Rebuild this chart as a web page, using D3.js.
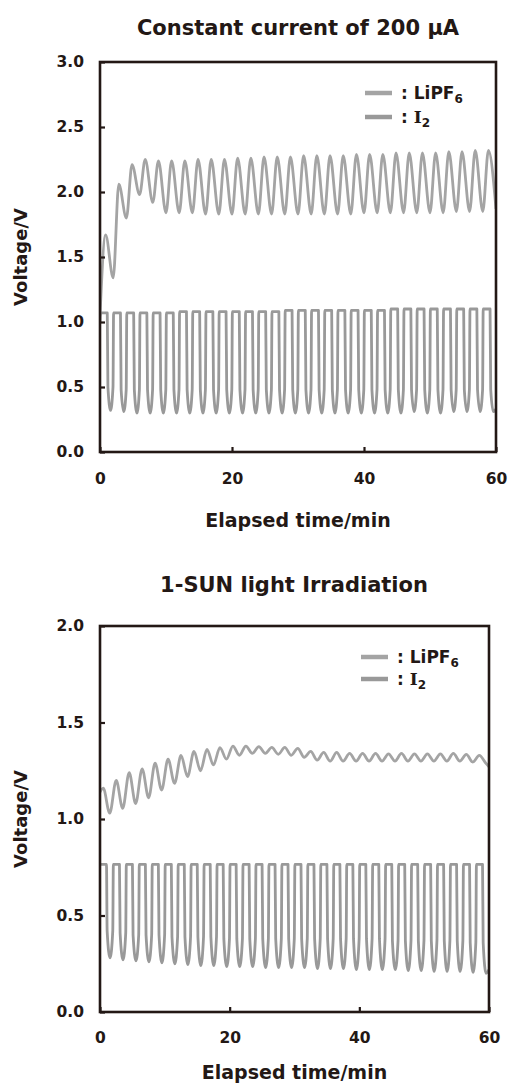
<!DOCTYPE html>
<html>
<head>
<meta charset="utf-8">
<script src="https://cdn.jsdelivr.net/npm/d3@7"></script>
<style>
  html, body { margin: 0; padding: 0; background: #fff; }
  svg { display: block; }
  text { font-family: "DejaVu Sans", Verdana, sans-serif; font-weight: bold; fill: #231815; }
</style>
</head>
<body>
<svg id="chart" width="508" height="1086"></svg>
<script>
// ---------- data ----------
const timeTicks = [0, 20, 40, 60];
const ccVoltTicks = [0, 0.5, 1.0, 1.5, 2.0, 2.5, 3.0];
const sunVoltTicks = [0, 0.5, 1.0, 1.5, 2.0];
const seriesNames = ["LiPF", "I"];
const seriesSubs = ["6", "2"];

// cycle start times (min), 2-min cycles
const cycleStarts = [0, 2, 4, 6, 8, 10, 12, 14, 16, 18, 20, 22, 24, 26, 28, 30, 32, 34, 36, 38, 40, 42, 44, 46, 48, 50, 52, 54, 56, 58];

// Constant current of 200 uA — upper (LiPF6) curve: peaks and troughs per cycle
const ccLiPF6Start = 1.05;
const ccLiPF6Peak = [1.67, 2.06, 2.21, 2.25, 2.24, 2.24, 2.24, 2.25, 2.25, 2.25, 2.26, 2.26, 2.27, 2.27, 2.27, 2.28, 2.28, 2.28, 2.28, 2.29, 2.29, 2.29, 2.30, 2.30, 2.30, 2.30, 2.31, 2.31, 2.32, 2.32];
const ccLiPF6Trough = [1.34, 1.80, 1.98, 1.92, 1.84, 1.84, 1.84, 1.83, 1.83, 1.83, 1.83, 1.83, 1.83, 1.83, 1.83, 1.83, 1.83, 1.83, 1.83, 1.84, 1.84, 1.84, 1.84, 1.84, 1.84, 1.84, 1.85, 1.85, 1.85, 1.87];

// Constant current — lower (I2) curve: plateau tops, knee levels and bottoms per cycle
const ccI2Start = 1.0;
const ccI2Top = [1.07, 1.07, 1.07, 1.07, 1.07, 1.07, 1.08, 1.08, 1.08, 1.08, 1.08, 1.08, 1.08, 1.08, 1.09, 1.09, 1.09, 1.09, 1.09, 1.09, 1.09, 1.09, 1.10, 1.10, 1.10, 1.10, 1.10, 1.10, 1.10, 1.10];
const ccI2Knee = [0.50, 0.48, 0.48, 0.48, 0.48, 0.48, 0.48, 0.48, 0.48, 0.48, 0.48, 0.48, 0.48, 0.48, 0.48, 0.48, 0.48, 0.48, 0.48, 0.48, 0.48, 0.48, 0.48, 0.48, 0.48, 0.48, 0.48, 0.48, 0.48, 0.48];
const ccI2Bottom = [0.32, 0.31, 0.30, 0.30, 0.30, 0.30, 0.30, 0.30, 0.30, 0.30, 0.30, 0.30, 0.30, 0.30, 0.30, 0.30, 0.30, 0.30, 0.30, 0.30, 0.30, 0.30, 0.30, 0.31, 0.30, 0.30, 0.31, 0.31, 0.31, 0.31];

// 1-SUN light irradiation — upper (LiPF6) curve
const sunLiPF6Start = 1.14;
const sunLiPF6End = 1.27;
const sunLiPF6Peak = [1.16, 1.20, 1.24, 1.26, 1.29, 1.31, 1.33, 1.35, 1.36, 1.37, 1.378, 1.378, 1.375, 1.371, 1.371, 1.366, 1.35, 1.345, 1.345, 1.34, 1.34, 1.34, 1.337, 1.34, 1.337, 1.337, 1.337, 1.34, 1.335, 1.33];
const sunLiPF6Trough = [1.03, 1.055, 1.08, 1.11, 1.15, 1.185, 1.22, 1.25, 1.28, 1.31, 1.33, 1.34, 1.34, 1.335, 1.33, 1.32, 1.305, 1.30, 1.30, 1.30, 1.30, 1.30, 1.30, 1.30, 1.30, 1.30, 1.30, 1.30, 1.295, 1.29];

// 1-SUN — lower (I2) curve
const sunI2Start = 0.76;
const sunI2Top = [0.765, 0.765, 0.765, 0.765, 0.765, 0.765, 0.765, 0.765, 0.765, 0.765, 0.765, 0.765, 0.765, 0.765, 0.765, 0.765, 0.765, 0.765, 0.765, 0.765, 0.765, 0.765, 0.765, 0.765, 0.765, 0.765, 0.765, 0.765, 0.765, 0.765];
const sunI2Knee = [0.42, 0.41, 0.40, 0.40, 0.40, 0.39, 0.39, 0.39, 0.39, 0.38, 0.38, 0.38, 0.38, 0.38, 0.38, 0.38, 0.38, 0.38, 0.38, 0.38, 0.38, 0.38, 0.37, 0.37, 0.37, 0.37, 0.37, 0.37, 0.36, 0.36];
const sunI2Bottom = [0.28, 0.27, 0.265, 0.26, 0.255, 0.25, 0.245, 0.24, 0.24, 0.235, 0.235, 0.235, 0.23, 0.23, 0.23, 0.23, 0.225, 0.225, 0.225, 0.22, 0.22, 0.22, 0.22, 0.215, 0.215, 0.21, 0.21, 0.21, 0.205, 0.20];

// ---------- drawing ----------
const svg = d3.select("#chart");
const ink = "#231815";
const colLiPF6 = "#a4a4a4";
const colI2 = "#999999";
const FONT = "'DejaVu Sans', Verdana, sans-serif";

function waveSawPoints(start, peaks, troughs, peakOff, troughOff, end) {
  const pts = [[0, start]];
  cycleStarts.forEach((t0, i) => {
    pts.push([t0 + peakOff, peaks[i]]);
    pts.push([Math.min(t0 + troughOff, 60), troughs[i]]);
  });
  if (end !== undefined) pts.push([60, end]);
  return pts;
}

// shape offsets: rise, plateau end, knee, bottom, knee2 (minutes into each cycle)
function waveSquarePoints(start, tops, knees, bottoms, off) {
  const pts = [[0, start]];
  const last = cycleStarts.length - 1;
  cycleStarts.forEach((t0, i) => {
    pts.push([t0 + off[0], tops[i]]);
    pts.push([t0 + off[1], tops[i]]);
    pts.push([t0 + off[2], knees[i]]);
    pts.push([t0 + off[3], bottoms[i]]);
    if (i < last) pts.push([t0 + off[4], knees[i]]);
    else pts.push([60, bottoms[i] + 0.02]);
  });
  return pts;
}

function panel(cfg) {
  const g = svg.append("g");
  const x = d3.scaleLinear().domain([0, 60]).range([cfg.left, cfg.right]);
  const y = d3.scaleLinear().domain([0, cfg.ymax]).range([cfg.bottom, cfg.top]);

  // title
  g.append("text").attr("x", cfg.titleX).attr("y", cfg.titleY)
    .attr("text-anchor", "middle").style("font-size", "21px").text(cfg.title);

  const clipId = "clip" + cfg.id;
  g.append("clipPath").attr("id", clipId).append("rect")
    .attr("x", cfg.left).attr("y", cfg.top).attr("width", cfg.right - cfg.left).attr("height", cfg.bottom - cfg.top);

  const line = d3.line().x(d => x(d[0])).y(d => y(d[1])).curve(d3.curveMonotoneX);
  const dataG = g.append("g").attr("clip-path", `url(#${clipId})`);
  cfg.series.forEach(s => {
    dataG.append("path").attr("d", line(s.pts)).attr("fill", "none")
      .attr("stroke", s.color).attr("stroke-width", 2.8).attr("stroke-linejoin", "round");
  });

  // axes
  const yAxis = d3.axisLeft(y).tickValues(cfg.yTicks).tickFormat(d3.format(".1f"))
    .tickSizeInner(-5).tickSizeOuter(0).tickPadding(16);
  const ya = g.append("g").attr("transform", `translate(${cfg.left},0)`).call(yAxis);
  const xAxis = d3.axisBottom(x).tickValues(timeTicks).tickFormat(d3.format("d"))
    .tickSizeInner(-5).tickSizeOuter(0).tickPadding(cfg.xPad);
  const xa = g.append("g").attr("transform", `translate(0,${cfg.bottom})`).call(xAxis);
  [ya, xa].forEach(a => {
    a.select(".domain").remove();
    a.selectAll(".tick line").attr("stroke", ink).attr("stroke-width", 2.2);
    a.selectAll(".tick text").style("font-size", "15.5px").style("font-weight", "bold")
      .style("font-family", FONT).attr("fill", ink);
  });

  // frame
  g.append("rect").attr("x", cfg.left).attr("y", cfg.top)
    .attr("width", cfg.right - cfg.left).attr("height", cfg.bottom - cfg.top)
    .attr("fill", "none").attr("stroke", ink).attr("stroke-width", 2.6);

  // axis titles
  g.append("text").attr("x", (cfg.left + cfg.right) / 2).attr("y", cfg.xTitleY)
    .attr("text-anchor", "middle").style("font-size", "19px").text("Elapsed time/min");
  g.append("text").attr("transform", `translate(${cfg.yTitleX},${(cfg.top + cfg.bottom) / 2}) rotate(-90)`)
    .attr("text-anchor", "middle").style("font-size", "18px").text("Voltage/V");

  // legend
  cfg.series.forEach((s, i) => {
    const ly = cfg.legY + i * cfg.legGap;
    g.append("line").attr("x1", cfg.legX).attr("x2", cfg.legX + 27).attr("y1", ly).attr("y2", ly)
      .attr("stroke", s.color).attr("stroke-width", 4.5);
    const t = g.append("text").attr("x", cfg.legX + 36).attr("y", ly + 6).style("font-size", "17px");
    t.append("tspan").text(": ");
    t.append("tspan").style("font-family", i === 1 ? "'DejaVu Serif', serif" : FONT).text(seriesNames[i]);
    t.append("tspan").attr("dy", 4).style("font-size", "12px").text(seriesSubs[i]);
  });
}

panel({
  id: 1, title: "Constant current of 200 \u00b5A", titleX: 298, titleY: 35,
  left: 100, right: 496, top: 62, bottom: 452, ymax: 3.0, yTicks: ccVoltTicks, xPad: 21,
  xTitleY: 527, yTitleX: 27, legX: 365, legY: 93, legGap: 24,
  series: [
    { color: colLiPF6, pts: waveSawPoints(ccLiPF6Start, ccLiPF6Peak, ccLiPF6Trough, 0.85, 2.0) },
    { color: colI2, pts: waveSquarePoints(ccI2Start, ccI2Top, ccI2Knee, ccI2Bottom, [0.06, 1.1, 1.2, 1.6, 1.97]) }
  ]
});

panel({
  id: 2, title: "1-SUN light Irradiation", titleX: 294, titleY: 592,
  left: 100, right: 489, top: 626, bottom: 1012, ymax: 2.0, yTicks: sunVoltTicks, xPad: 20,
  xTitleY: 1079, yTitleX: 27, legX: 361, legY: 657, legGap: 22,
  series: [
    { color: colLiPF6, pts: waveSawPoints(sunLiPF6Start, sunLiPF6Peak, sunLiPF6Trough, 0.5, 1.5, sunLiPF6End) },
    { color: colI2, pts: waveSquarePoints(sunI2Start, sunI2Top, sunI2Knee, sunI2Bottom, [0.06, 1.0, 1.1, 1.55, 1.97]) }
  ]
});
</script>
</body>
</html>
